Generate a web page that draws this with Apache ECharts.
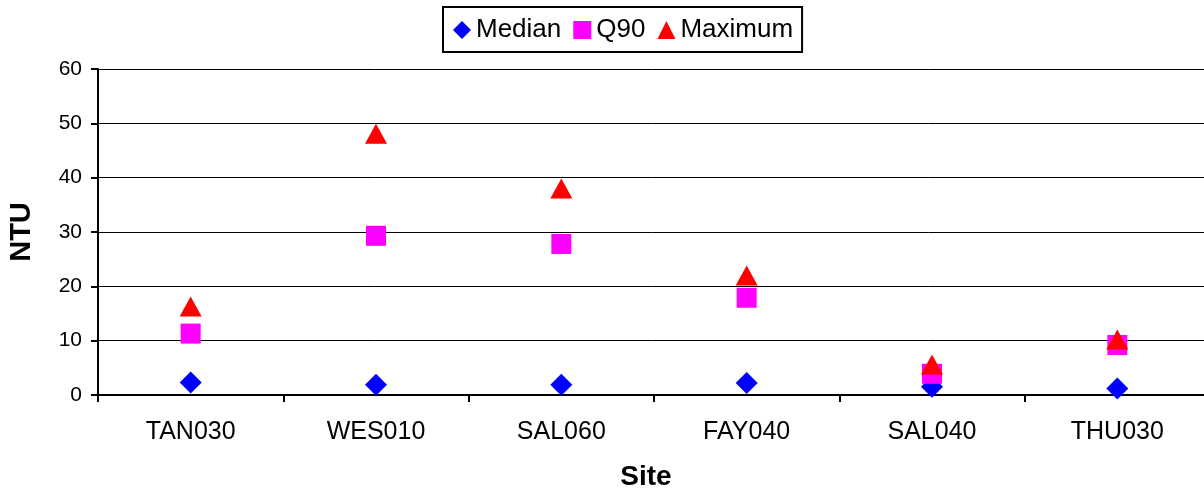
<!DOCTYPE html>
<html>
<head>
<meta charset="utf-8">
<script src="https://cdn.jsdelivr.net/npm/echarts@6/dist/echarts.min.js"></script>
<style>html,body{margin:0;padding:0;background:#fff;}#c{width:1204px;height:492px;}</style>
</head>
<body>
<div id="c"></div>
<script>
const sites = ['TAN030', 'WES010', 'SAL060', 'FAY040', 'SAL040', 'THU030'];
const median = [2.3, 1.9, 1.9, 2.2, 1.5, 1.2];
const q90 = [11.3, 29.3, 27.8, 17.9, 3.9, 9.2];
const maximum = [16.3, 48.1, 38.0, 22.0, 5.6, 10.2];
const yTicks = [0, 10, 20, 30, 40, 50, 60];

const FONT = 'Liberation Sans, Arial, sans-serif';
const chart = echarts.init(document.getElementById('c'), null, {renderer: 'canvas'});
chart.setOption({
  animation: false,
  backgroundColor: '#fff',
  grid: {left: 98, top: 69, bottom: 97, right: -6, containLabel: false, outerBoundsMode: 'none'},
  legend: {
    left: 443, top: 7,
    padding: [10, 9, 9, 10],
    borderColor: '#000', borderWidth: 2,
    itemWidth: 18, itemHeight: 18, itemGap: 12,
    textStyle: {fontFamily: FONT, fontSize: 26, color: '#000', padding: [0, 0, 0, 0]},
    data: [
      {name: 'Median', icon: 'diamond'},
      {name: 'Q90', icon: 'rect'},
      {name: 'Maximum', icon: 'triangle'}
    ]
  },
  xAxis: {
    type: 'category', data: sites, boundaryGap: true,
    name: 'Site', nameLocation: 'middle', nameGap: 68,
    nameTextStyle: {fontFamily: FONT, fontSize: 28, fontWeight: 'bold', color: '#000', padding: [0, 16, 0, 0]},
    axisLine: {lineStyle: {color: '#000', width: 2}},
    axisTick: {show: true, length: 7, lineStyle: {color: '#000', width: 2}, alignWithLabel: false},
    axisLabel: {fontFamily: FONT, fontSize: 25, color: '#000', margin: 25},
    splitLine: {show: false}
  },
  yAxis: {
    type: 'value', min: 0, max: 60, interval: 10,
    name: 'NTU', nameLocation: 'middle', nameGap: 62, nameRotate: 90,
    nameTextStyle: {fontFamily: FONT, fontSize: 29, fontWeight: 'bold', color: '#000'},
    axisLine: {show: true, lineStyle: {color: '#000', width: 2}},
    axisTick: {show: true, length: 7, lineStyle: {color: '#000', width: 2}},
    axisLabel: {fontFamily: FONT, fontSize: 21, color: '#000', margin: 16,
      formatter: v => yTicks.includes(v) ? String(v) : ''},
    splitLine: {show: true, lineStyle: {color: '#000', width: 1}}
  },
  series: [
    {name: 'Median', type: 'scatter', symbol: 'diamond', symbolSize: 22,
     itemStyle: {color: '#0000FF', opacity: 1}, data: median, z: 3},
    {name: 'Q90', type: 'scatter', symbol: 'rect', symbolSize: 20,
     itemStyle: {color: '#FF00FF', opacity: 1}, data: q90, z: 4},
    {name: 'Maximum', type: 'scatter', symbol: 'triangle', symbolSize: [22, 20],
     itemStyle: {color: '#FF0000', opacity: 1}, data: maximum, z: 5}
  ]
});
</script>
</body>
</html>
